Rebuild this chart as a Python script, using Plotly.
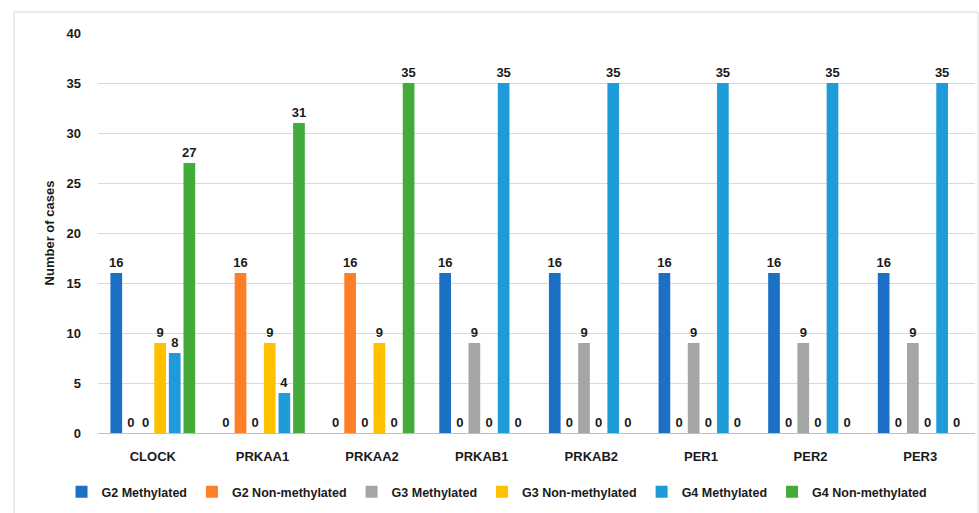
import plotly.graph_objects as go

categories = ["CLOCK", "PRKAA1", "PRKAA2", "PRKAB1", "PRKAB2", "PER1", "PER2", "PER3"]
series_names = ["G2 Methylated", "G2 Non-methylated", "G3 Methylated",
                "G3 Non-methylated", "G4 Methylated", "G4 Non-methylated"]
g2_methylated = [16, 0, 0, 16, 16, 16, 16, 16]
g2_non_methylated = [0, 16, 16, 0, 0, 0, 0, 0]
g3_methylated = [0, 0, 0, 9, 9, 9, 9, 9]
g3_non_methylated = [9, 9, 9, 0, 0, 0, 0, 0]
g4_methylated = [8, 4, 0, 35, 35, 35, 35, 35]
g4_non_methylated = [27, 31, 35, 0, 0, 0, 0, 0]
colors = ["#1B70C6", "#FF7F27", "#A5A5A5", "#FFC000", "#1E9BD8", "#43AB3A"]

values = [g2_methylated, g2_non_methylated, g3_methylated,
          g3_non_methylated, g4_methylated, g4_non_methylated]

fig = go.Figure()
for name, vals, col in zip(series_names, values, colors):
    fig.add_trace(go.Bar(
        x=categories, y=vals, name=name, marker_color=col,
        marker_line_width=0,
        text=[str(v) for v in vals], textposition="outside",
        textangle=0, constraintext="none",
        textfont=dict(family="Liberation Sans", size=13, color="#1a1a1a", weight="bold"),
        cliponaxis=False,
    ))

fig.update_layout(
    width=979, height=513,
    margin=dict(l=98, r=4, t=33, b=80),
    paper_bgcolor="white", plot_bgcolor="white",
    barmode="group", bargap=0.2, bargroupgap=0.2,
    font=dict(family="Liberation Sans", color="#1a1a1a"),
    yaxis=dict(range=[0, 40], dtick=5, showgrid=True, gridcolor="#D9D9D9",
               gridwidth=1, zeroline=True, zerolinecolor="#BFBFBF", zerolinewidth=1,
               tickfont=dict(size=13, weight="bold"), ticks="", ticklabelstandoff=16,
               title=dict(text="Number of cases", font=dict(size=13, weight="bold"), standoff=8)),
    xaxis=dict(tickfont=dict(size=13, weight="bold"), showline=False, ticks="",
               ticklabelstandoff=14),
    legend=dict(orientation="h", x=0.455, xanchor="center", y=-0.148, yanchor="middle",
                font=dict(size=12.5, weight="bold"),
                itemwidth=30, traceorder="normal", tracegroupgap=0),
    shapes=[dict(type="rect", xref="paper", yref="paper",
                 x0=-0.0958, x1=1.0034, y0=-0.3, y1=1.0525,
                 line=dict(color="#D9D9D9", width=1), fillcolor="rgba(0,0,0,0)", layer="below")],
)

fig.write_html("out.html")
